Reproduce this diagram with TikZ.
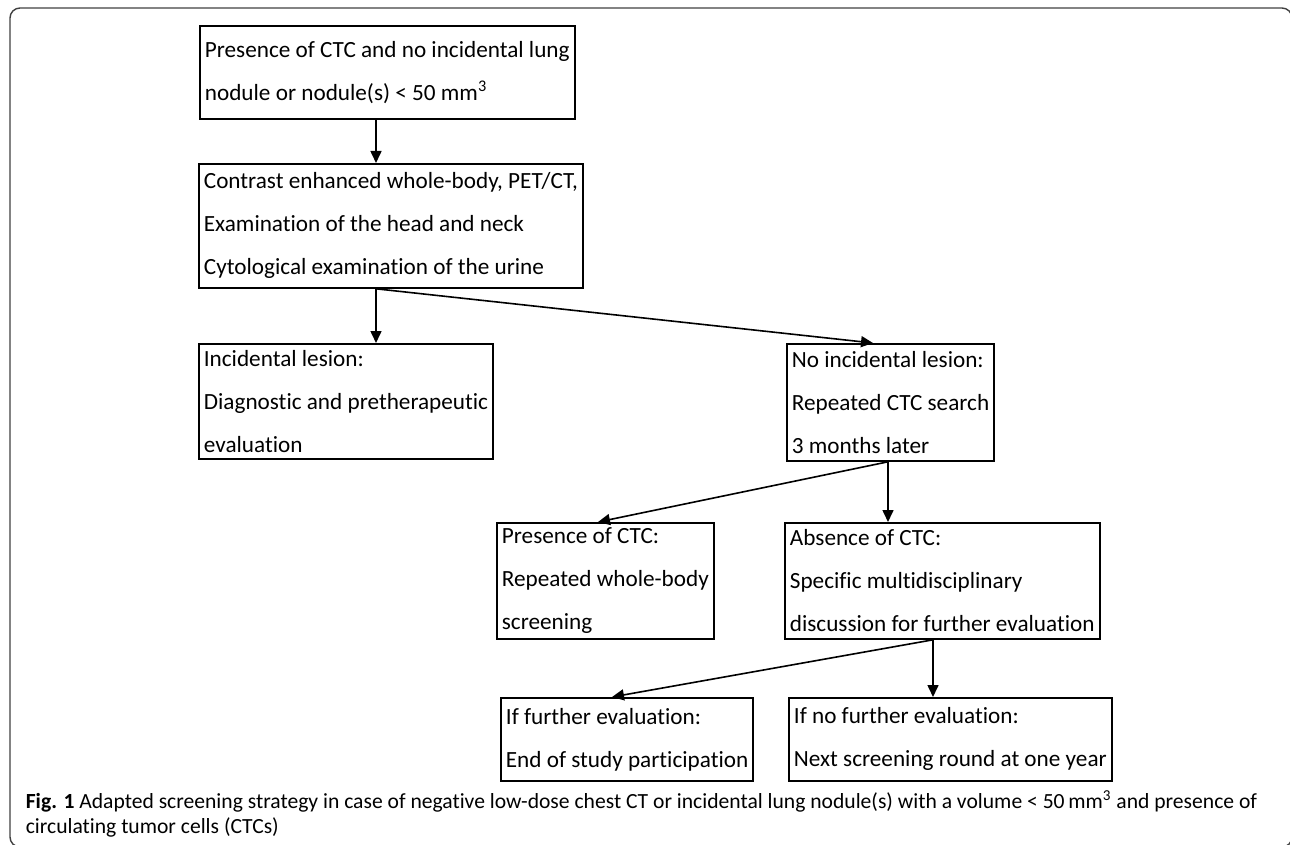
\documentclass[tikz,border=0pt]{standalone}
\usepackage{fontspec}
\setmainfont{Carlito}[Ligatures=NoCommon]
\newfontfamily\capfont{Carlito}[Ligatures=NoCommon]
\usetikzlibrary{arrows.meta}

\newcommand{\boxfont}{\fontsize{11.6}{21.5}\selectfont}

\tikzset{
  flowbox/.style={draw, line width=0.9pt, anchor=north west, align=left,
    inner xsep=2.5pt, inner ysep=0pt, font=\boxfont},
  frame/.style={draw=black!75, line width=0.7pt, rounded corners=5pt},
}

\begin{document}
\begin{tikzpicture}[x=0.5pt, y=-0.5pt, >={Triangle[length=6pt,width=5.5pt]}, line width=0.8pt]

  \useasboundingbox (0,0) rectangle (1290,845);

  % outer frame of the figure
  \draw[frame] (10,8) rectangle (1292,847);

  % the boxes of the flow chart
  \node[flowbox, minimum height=46.5pt] (ctc) at (199,25)
    {Presence of CTC and no incidental lung\\nodule or nodule(s) < 50 mm\textsuperscript{3}};
  \node[flowbox, minimum height=62pt] (exam) at (198,163)
    {Contrast enhanced whole-body, PET/CT,\\Examination of the head and neck\\Cytological examination of the urine};
  \node[flowbox, minimum height=57.5pt] (lesion) at (198,343)
    {Incidental lesion:\\Diagnostic and pretherapeutic\\evaluation};
  \node[flowbox, minimum height=58.5pt] (nolesion) at (786,343)
    {No incidental lesion:\\Repeated CTC search\\3 months later};
  \node[flowbox, minimum height=58pt] (present) at (496,522)
    {Presence of CTC:\\Repeated whole-body\\screening};
  \node[flowbox, minimum height=58pt] (absent) at (784,522)
    {Absence of CTC:\\Specific multidisciplinary\\discussion for further evaluation};
  \node[flowbox, minimum height=41.5pt] (further) at (500,697)
    {If further evaluation:\\End of study participation};
  \node[flowbox, minimum height=41.5pt] (nofurther) at (788,697)
    {If no further evaluation:\\Next screening round at one year};

  % where the arrows leave and meet the boxes
  \coordinate (xa) at (376,0);
  \coordinate (xb) at (873,0);
  \coordinate (xc) at (888,0);
  \coordinate (xd) at (598,0);
  \coordinate (xe) at (933,0);
  \coordinate (xf) at (612,0);

  % the arrows
  \draw[->] (ctc.south -| xa) -- (exam.north -| xa);
  \draw[->] (exam.south -| xa) -- (lesion.north -| xa);
  \draw[->] (exam.south -| xa) -- (nolesion.north -| xb);
  \draw[->] (nolesion.south -| xc) -- (absent.north -| xc);
  \draw[->] (nolesion.south -| xc) -- (present.north -| xd);
  \draw[->] (absent.south -| xe) -- (nofurther.north -| xe);
  \draw[->] (absent.south -| xe) -- (further.north -| xf);

  % caption
  \node[anchor=north west, align=left, inner sep=0pt,
    font=\capfont\fontsize{10.8}{12.5}\selectfont] (caption) at (25,790)
    {\textbf{Fig. 1} Adapted screening strategy in case of negative low-dose chest CT or incidental lung nodule(s) with a volume < 50\,mm\textsuperscript{3} and presence of\\circulating tumor cells (CTCs)};

\end{tikzpicture}
\end{document}
